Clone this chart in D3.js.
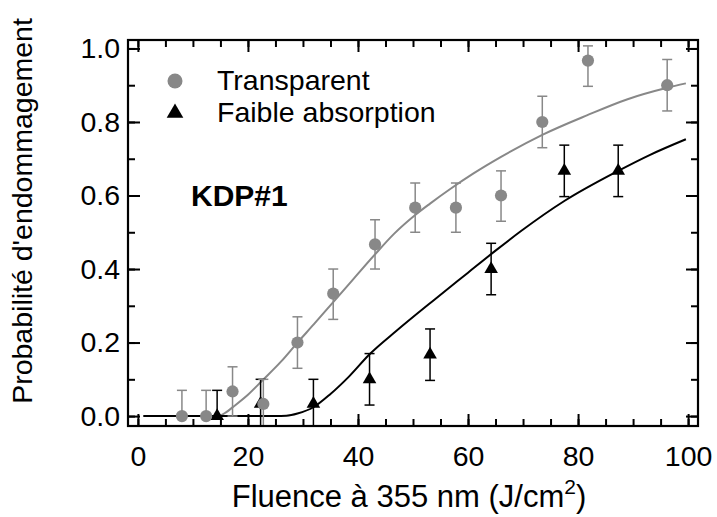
<!DOCTYPE html>
<html><head><meta charset="utf-8">
<script src="https://cdn.jsdelivr.net/npm/d3@7"></script>
<style>html,body{margin:0;padding:0;background:#fff}</style>
</head><body><svg id="c" width="717" height="517"></svg>
<script>
// ---- data ----
const transX      = [8.0, 12.4, 17.2, 22.8, 29.0, 35.5, 43.1, 50.4, 57.8, 66.0, 73.5, 81.8, 96.2];
const transY      = [0, 0, 0.067, 0.033, 0.2, 0.333, 0.467, 0.567, 0.567, 0.6, 0.8, 0.967, 0.9];
const transErrHi  = [0.07, 0.07, 0.067, 0.067, 0.07, 0.067, 0.067, 0.067, 0.067, 0.067, 0.07, 0.04, 0.07];
const transErrLo  = [0, 0, 0.067, 0.067, 0.07, 0.07, 0.067, 0.067, 0.067, 0.07, 0.07, 0.07, 0.07];

const absX        = [14.4, 22.3, 31.9, 42.1, 53.1, 64.2, 77.5, 87.3];
const absY        = [0, 0.033, 0.033, 0.1, 0.167, 0.4, 0.667, 0.667];
const absErrHi    = [0.07, 0.067, 0.067, 0.07, 0.07, 0.07, 0.07, 0.07];
const absErrLo    = [0, 0.067, 0.067, 0.07, 0.07, 0.07, 0.07, 0.07];

const transFitX = [1, 14.5, 16, 17.3, 20, 22.7, 26, 29, 32, 35.5, 39, 43.1, 46.5, 50.4, 53.1, 56.7, 61, 66, 73.5, 81.6, 89, 96.2, 99.6];
const transFitY = [0, 0, 0.01, 0.025, 0.058, 0.098, 0.148, 0.2, 0.25, 0.31, 0.37, 0.44, 0.495, 0.547, 0.578, 0.617, 0.66, 0.705, 0.765, 0.818, 0.862, 0.893, 0.905];

const absFitX = [1, 25, 27, 29, 31.9, 35, 38.4, 42.1, 47, 54, 60, 65, 69.7, 77.5, 87.3, 93, 99.6];
const absFitY = [0, 0, 0.001, 0.007, 0.024, 0.06, 0.108, 0.168, 0.232, 0.318, 0.39, 0.45, 0.504, 0.585, 0.667, 0.71, 0.753];

const xTickVals = [0, 20, 40, 60, 80, 100];
const yTickVals = [0, 0.2, 0.4, 0.6, 0.8, 1.0];
const seriesNames = ["Transparent", "Faible absorption"];
const annotation = "KDP#1";
const xTitle = "Fluence à 355 nm (J/cm";
const yTitle = "Probabilité d'endommagement";

// ---- drawing ----
const GREY = "#888888";
const FONT = "'Liberation Sans', Arial, Helvetica, sans-serif";
const L = 128, R = 698, T = 40, B = 426;
const svg = d3.select("#c");
const x = d3.scaleLinear().domain([-1.8, 101.8]).range([L, R]);
const y = d3.scaleLinear().domain([-0.027, 1.023]).range([B, T]);

svg.append("defs").append("clipPath").attr("id", "clip")
  .append("rect").attr("x", L).attr("y", T).attr("width", R - L).attr("height", B - T);

const plot = svg.append("g").attr("clip-path", "url(#clip)");

const line = d3.line().x(d => x(d[0])).y(d => y(d[1])).curve(d3.curveMonotoneX);
plot.append("path").datum(transFitX.map((v, i) => [v, transFitY[i]]))
  .attr("d", line).attr("fill", "none").attr("stroke", GREY).attr("stroke-width", 2);
plot.append("path").datum(absFitX.map((v, i) => [v, absFitY[i]]))
  .attr("d", line).attr("fill", "none").attr("stroke", "#000").attr("stroke-width", 2);

function errBars(xs, ys, hi, lo, color) {
  const g = plot.append("g").attr("stroke", color).attr("stroke-width", 1.5).attr("fill", "none");
  xs.forEach((xv, i) => {
    const cx = x(xv), y1 = y(ys[i] + hi[i]), y0 = y(ys[i] - lo[i]);
    g.append("line").attr("x1", cx).attr("x2", cx).attr("y1", y1).attr("y2", y0);
    g.append("line").attr("x1", cx - 5).attr("x2", cx + 5).attr("y1", y1).attr("y2", y1);
    if (lo[i] > 0) g.append("line").attr("x1", cx - 5).attr("x2", cx + 5).attr("y1", y0).attr("y2", y0);
  });
}
const tri = d3.symbol().type(d3.symbolTriangle).size(80);
const triLeg = d3.symbol().type(d3.symbolTriangle).size(120);

errBars(absX, absY, absErrHi, absErrLo, "#000");
plot.append("g").selectAll("path").data(absX).join("path")
  .attr("d", tri).attr("transform", (d, i) => `translate(${x(d)},${y(absY[i])})`).attr("fill", "#000");

errBars(transX, transY, transErrHi, transErrLo, GREY);
plot.append("g").selectAll("circle").data(transX).join("circle")
  .attr("cx", d => x(d)).attr("cy", (d, i) => y(transY[i])).attr("r", 6.1).attr("fill", GREY);

// axes
const minorX = d3.range(0, 101, 5), minorY = d3.range(0, 1.001, 0.1);
function axisTicks(axisGen, pos, minorVals, majorVals, fmt, showLabels) {
  const g = svg.append("g").attr("transform", pos);
  g.call(axisGen.tickValues(minorVals).tickSize(-7).tickFormat(""));
  g.selectAll("path").remove();
  const g2 = svg.append("g").attr("transform", pos);
  g2.call(axisGen.tickValues(majorVals).tickSize(-12).tickPadding(14).tickFormat(showLabels ? fmt : ""));
  g2.select("path").remove();
  [g, g2].forEach(gg => gg.selectAll("line").attr("stroke", "#000").attr("stroke-width", 2));
  g2.selectAll("text").attr("font-family", FONT).attr("font-size", 28.5).attr("fill", "#000");
  return g2;
}
axisTicks(d3.axisBottom(x), `translate(0,${B})`, minorX, xTickVals, d3.format("d"), true)
  .selectAll("text").attr("dy", "0.9em");
axisTicks(d3.axisTop(x), `translate(0,${T})`, minorX, xTickVals, d3.format("d"), false);
axisTicks(d3.axisLeft(y), `translate(${L},0)`, minorY, yTickVals, d3.format(".1f"), true)
  .selectAll("text").attr("dx", "6");
axisTicks(d3.axisRight(y), `translate(${R},0)`, minorY, yTickVals, d3.format(".1f"), false);

svg.append("rect").attr("x", L).attr("y", T).attr("width", R - L).attr("height", B - T)
  .attr("fill", "none").attr("stroke", "#000").attr("stroke-width", 2.2);

// titles
const xt = svg.append("text").attr("x", (L + R) / 2 - 4).attr("y", 507).attr("text-anchor", "middle")
  .attr("font-family", FONT).attr("font-size", 31).attr("fill", "#000");
xt.append("tspan").text(xTitle);
xt.append("tspan").attr("dy", -13).attr("font-size", 21).text("2");
xt.append("tspan").attr("dy", 13).text(")");

svg.append("text").attr("transform", `translate(32,${(T + B) / 2 - 22}) rotate(-90)`)
  .attr("text-anchor", "middle").attr("font-family", FONT).attr("font-size", 28.5).attr("fill", "#000")
  .text(yTitle);

// legend
svg.append("circle").attr("cx", 175).attr("cy", 81).attr("r", 7.5).attr("fill", GREY);
svg.append("path").attr("d", triLeg).attr("transform", "translate(175,113)").attr("fill", "#000");
const lg = svg.append("g").attr("font-family", FONT).attr("font-size", 28.5).attr("fill", "#000");
lg.append("text").attr("x", 217).attr("y", 90).text(seriesNames[0]);
lg.append("text").attr("x", 217).attr("y", 122).text(seriesNames[1]);

svg.append("text").attr("x", 191).attr("y", 206).attr("font-family", FONT).attr("font-size", 30)
  .attr("font-weight", "bold").attr("fill", "#000").text(annotation);
</script></body></html>
